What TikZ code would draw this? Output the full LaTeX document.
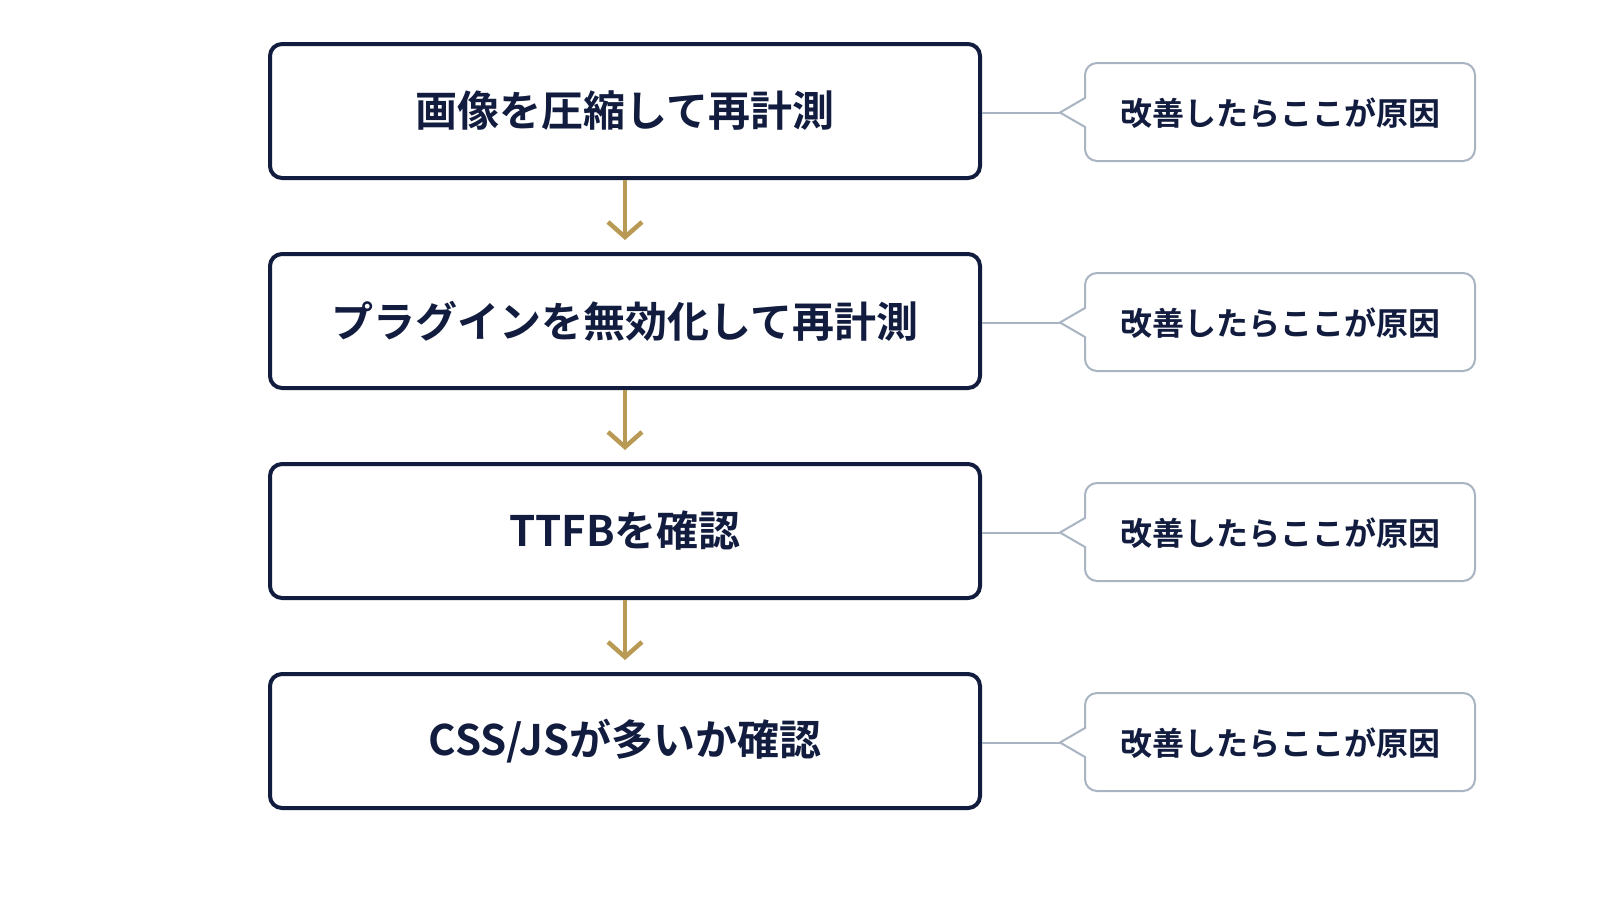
\documentclass[tikz,border=0pt]{standalone}
\usepackage{fontspec}
\setmainfont{Noto Sans CJK JP}[BoldFont={* Bold}]
\usetikzlibrary{arrows.meta}
\definecolor{navy}{HTML}{111C3F}
\definecolor{gold}{HTML}{B99A55}
\definecolor{gr}{HTML}{A9B4C3}
\begin{document}
\begin{tikzpicture}[x=1pt,y=-1pt,
 box/.style={draw=navy,line width=4pt,rounded corners=12pt,minimum width=710pt,minimum height=134pt,text=navy,font=\fontsize{42}{46}\selectfont\bfseries},
 ctext/.style={text=navy,font=\fontsize{32}{36}\selectfont\bfseries},
 flow/.style={draw=gold,line width=4.5pt,-{Straight Barb[length=15pt,width=34pt,line width=4.5pt]}},
 conn/.style={draw=gr,line width=2pt}]
\useasboundingbox[fill=white] (0,0) rectangle (1600,900);
\foreach \i/\t/\y in {1/{画像を圧縮して再計測}/111,2/{プラグインを無効化して再計測}/321,3/{TTFBを確認}/531,4/{CSS/JSが多いか確認}/741}{
 \node[box] (b\i) at (625,\y) {\t};
 \draw[gr,line width=2pt] (1085,\y+16) [rounded corners=12pt] -- (1085,\y+50) -- (1475,\y+50) -- (1475,\y-48) -- (1085,\y-48) [sharp corners] -- (1085,\y-13) -- (1060,\y+1.5) -- cycle;
 \node[ctext] (c\i) at (1280,\y+2) {改善したらここが原因};
 \coordinate (t\i) at (1060,\y+1.5);
 \draw[conn] (b\i.east|-t\i) -- (t\i);
}
\foreach \a/\b in {1/2,2/3,3/4}{\draw[flow] (b\a.south) -- ([yshift=12pt]b\b.north);}
\end{tikzpicture}
\end{document}
